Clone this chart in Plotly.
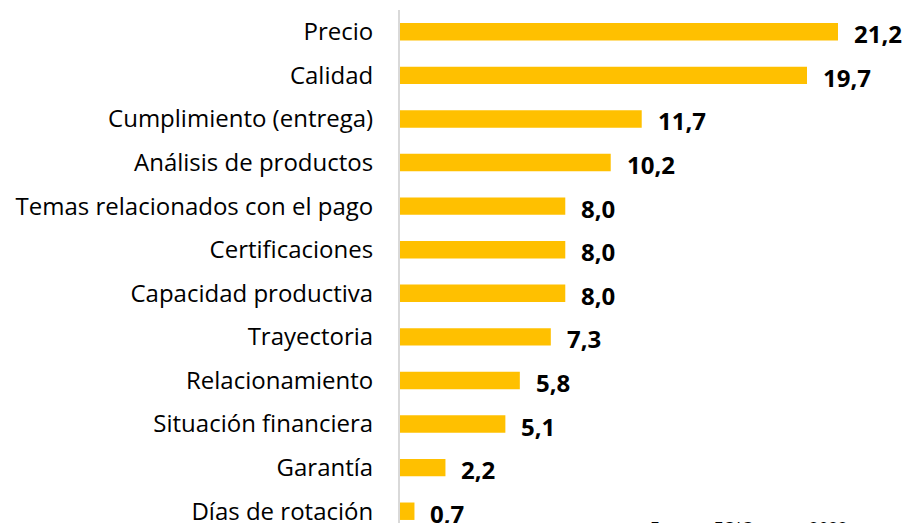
import plotly.graph_objects as go

categories = ["Precio", "Calidad", "Cumplimiento (entrega)", "Análisis de productos",
              "Temas relacionados con el pago", "Certificaciones", "Capacidad productiva",
              "Trayectoria", "Relacionamiento", "Situación financiera", "Garantía",
              "Días de rotación"]
values = [21.2, 19.7, 11.7, 10.2, 8.0, 8.0, 8.0, 7.3, 5.8, 5.1, 2.2, 0.7]
value_labels = [f"{v:.1f}".replace(".", ",") for v in values]
source_note = "Fuente: EOIC, mayo 2022"

# page is offset by the 8px body margin
W, H = 903, 515
L, T = 392, 2
plot_w = W - L
plot_h = H - T

fig = go.Figure(go.Bar(
    y=categories, x=values, orientation="h",
    marker=dict(color="#FFC000", line=dict(width=0)),
    hoverinfo="skip",
))

for c, v, t in zip(categories, values, value_labels):
    fig.add_annotation(x=v, y=c, text=t, xanchor="left", yanchor="middle",
                       xshift=14, yshift=-2, showarrow=False,
                       font=dict(family="Open Sans", size=24, color="#000000", weight="bold"))

fig.add_annotation(x=(648 - 400) / plot_w, y=(523 - 514) / plot_h, xref="paper", yref="paper",
                   text=source_note, showarrow=False, xanchor="left", yanchor="top",
                   font=dict(family="Open Sans", size=17, color="#000000"))

fig.update_layout(
    width=W, height=H,
    margin=dict(l=L, r=0, t=T, b=0, autoexpand=False),
    plot_bgcolor="white", paper_bgcolor="white",
    bargap=0.6, showlegend=False,
    xaxis=dict(range=[0, plot_w / 20.66], visible=False, fixedrange=True),
    yaxis=dict(categoryorder="array", categoryarray=categories,
               range=[11.27, -0.5], showline=True, linecolor="#D9D9D9", linewidth=2,
               ticks="", ticklabelstandoff=20,
               tickfont=dict(family="Open Sans", size=24, color="#000000")),
)

fig.write_html("out.html")
